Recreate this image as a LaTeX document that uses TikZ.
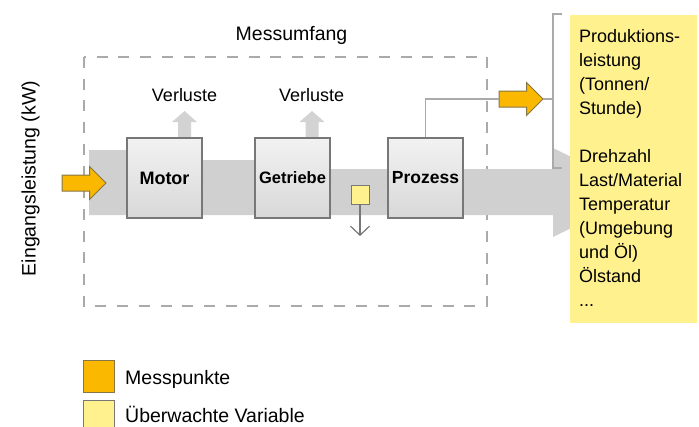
\documentclass[tikz,border=0pt]{standalone}
\usepackage{fontspec}
\setmainfont{Liberation Sans}
\usetikzlibrary{arrows.meta}
\definecolor{bandgray}{HTML}{D0D0D0}
\definecolor{lossgray}{HTML}{D3D3D3}
\definecolor{boxedge}{HTML}{777777}
\definecolor{boxtop}{HTML}{F2F2F2}
\definecolor{boxbot}{HTML}{D8D8D8}
\definecolor{mpfill}{HTML}{FAB900}
\definecolor{mpedge}{HTML}{857547}
\definecolor{varfill}{HTML}{FFF28E}
\definecolor{linegray}{HTML}{AAAAAA}
\newcommand\fsz[2][1.2]{\fontsize{#2}{#1\dimexpr #2pt\relax}\selectfont}
\begin{document}
\begin{tikzpicture}[x=1pt,y=-1pt,
  unitbox/.style={draw=boxedge, line width=1.1pt, top color=boxtop, bottom color=boxbot,
    minimum width=75pt, minimum height=80pt, inner sep=0pt, font=\bfseries\fsz{18}},
  mparrow/.pic={\filldraw[fill=mpfill, draw=mpedge, line width=1pt, line join=miter]
    (0,-8) -- (27.5,-8) -- (27.5,-16.5) -- (44,0) -- (27.5,16.5) -- (27.5,8) -- (0,8) -- cycle;},
  plainlabel/.style={inner sep=0pt, font=\fsz{18}},
  thinline/.style={linegray, line width=1.3pt},
  legendbox/.style={minimum width=31pt, minimum height=32pt, inner sep=0pt, line width=1pt}]
\useasboundingbox (0,0) rectangle (699,426);

% measurement boundary
\draw[linegray, line width=1.3pt, dash pattern=on 11pt off 10.7pt] (84,57) rectangle (487,306);
\node[plainlabel, anchor=base, font=\fsz{19.5}] (scope) at (291.5,40) {Messumfang};

% energy flow band
\fill[bandgray] (89,150) -- (165,150) -- (165,160) -- (292,160) -- (292,169) -- (553,169)
  -- (553,148) -- (644,192.5) -- (553,237) -- (553,215) -- (89,215) -- cycle;

% loss arrows
\foreach \c in {184.5,312}
  \fill[lossgray] (\c-6.5,139) -- (\c-6.5,122) -- (\c-12.5,122) -- (\c,111)
    -- (\c+12.5,122) -- (\c+6.5,122) -- (\c+6.5,139) -- cycle;
\node[plainlabel, anchor=base] (loss1) at (184.5,101.5) {Verluste};
\node[plainlabel, anchor=base] (loss2) at (311.7,101.5) {Verluste};

% drive train units
\node[unitbox] (motor) at (164.5,178) {Motor};
\node[unitbox, font=\bfseries\fsz{16.5}] (getriebe) at (292.5,178) {Getriebe};
\node[unitbox, font=\bfseries\fsz{17.5}] (prozess) at (425.5,178) {Prozess};

% monitored variable on the shaft
\node[fill=varfill, draw=boxedge, line width=1pt, minimum width=18pt, minimum height=19pt,
  inner sep=0pt] (sensor) at (360,194.5) {};
\coordinate (drain) at (360,236);
\draw[boxedge, line width=1.2pt, -{Straight Barb[length=9pt,width=19pt]}] (sensor.south) -- (drain);

% input power
\node[plainlabel, anchor=base, rotate=90, font=\fsz{19.5}] (input) at (35.5,178.5) {Eingangsleistung (kW)};
\coordinate (intail) at (62,183);
\pic at (intail) {mparrow};

% production output
\coordinate (outtail) at (499,99);
\coordinate (outtip) at (543,99);
\pic at (outtail) {mparrow};
\draw[thinline] (prozess.north) |- (outtail);
\coordinate (brtop) at (553,14);
\coordinate (brbot) at (553,168);
\coordinate (brmid) at (553,99);
\draw[thinline] (outtip) -- (brmid);
\draw[thinline] (562,14) -- (brtop) -- (brbot) -- (562,168);

% monitored variables
\node[fill=varfill, anchor=north west, minimum width=127pt, minimum height=308pt, inner sep=0pt]
  (vars) at (570,15) {};
\node[anchor=north west, inner sep=0pt, align=left, font=\fontsize{18}{24}\selectfont] (varstext) at (579,29.5)
  {Produktions-\\leistung\\(Tonnen/\\Stunde)\\[24pt]Drehzahl\\Last/Material\\Temperatur\\(Umgebung\\und Öl)\\Ölstand\\...};

% legend
\node[legendbox, fill=mpfill, draw=mpedge] (lgmp) at (98.5,376) {};
\node[plainlabel, anchor=base west, font=\fsz{19.5}] (lgmptext) at (125,384.3) {Messpunkte};
\node[legendbox, fill=varfill, draw=boxedge] (lgvar) at (98.5,416) {};
\node[plainlabel, anchor=base west, font=\fsz{19.5}] (lgvartext) at (125,422.7) {Überwachte Variable};
\end{tikzpicture}
\end{document}
